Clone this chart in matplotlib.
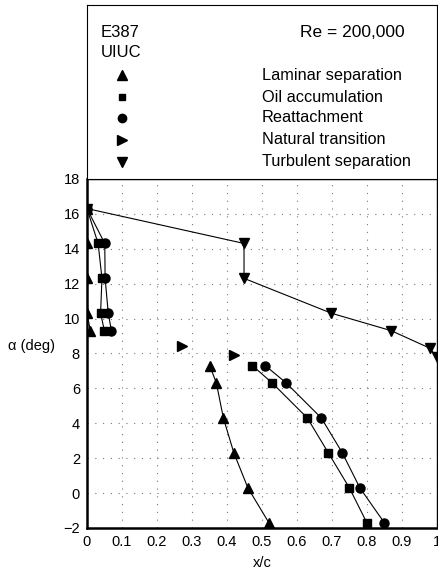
import matplotlib
matplotlib.use("Agg")
import matplotlib.pyplot as plt
from matplotlib.lines import Line2D

plt.rcParams["font.family"] = ["Liberation Sans", "DejaVu Sans"]

# E387 surface oil-flow features, Re = 200,000 (UIUC)
alpha_upper = [16.3, 14.3, 12.3, 10.3, 9.3]
lam_upper_x = [0.0, 0.0, 0.0, 0.0, 0.01]
oil_upper_x = [0.0, 0.032, 0.043, 0.039, 0.05]
reat_upper_x = [0.0, 0.051, 0.052, 0.061, 0.07]

alpha_lower = [7.3, 6.3, 4.3, 2.3, 0.3, -1.7]
lam_lower_x = [0.351, 0.37, 0.39, 0.42, 0.46, 0.52]
oil_lower_x = [0.473, 0.53, 0.63, 0.69, 0.75, 0.80]
reat_lower_x = [0.51, 0.57, 0.67, 0.73, 0.78, 0.85]

nat_x = [0.273, 0.421]
nat_alpha = [8.4, 7.9]

turb_x = [0.0, 0.449, 0.449, 0.699, 0.87, 0.98, 1.0]
turb_alpha = [16.3, 14.3, 12.3, 10.3, 9.3, 8.3, 7.8]

legend_labels = ["Laminar separation", "Oil accumulation", "Reattachment",
                 "Natural transition", "Turbulent separation"]
legend_markers = ["^", "s", "o", ">", "v"]
marker_sizes = {"^": 7, "s": 5.5, "o": 6.5, ">": 7, "v": 7}

fig = plt.figure(figsize=(4.39, 5.77), dpi=100)
ax = fig.add_axes([0.198, 0.085, 0.797, 0.605])
box = fig.add_axes([0.198, 0.690, 0.797, 0.301])

kw = dict(color="black", lw=0.8, mfc="black", mec="black")
ax.plot(lam_upper_x, alpha_upper, marker="^", ms=marker_sizes["^"], **kw)
ax.plot(oil_upper_x, alpha_upper, marker="s", ms=marker_sizes["s"], **kw)
ax.plot(reat_upper_x, alpha_upper, marker="o", ms=marker_sizes["o"], **kw)
ax.plot(lam_lower_x, alpha_lower, marker="^", ms=marker_sizes["^"], **kw)
ax.plot(oil_lower_x, alpha_lower, marker="s", ms=marker_sizes["s"], **kw)
ax.plot(reat_lower_x, alpha_lower, marker="o", ms=marker_sizes["o"], **kw)
ax.plot(nat_x, nat_alpha, marker=">", ms=marker_sizes[">"], ls="none",
        mfc="black", mec="black")
ax.plot(turb_x, turb_alpha, marker="v", ms=marker_sizes["v"], **kw)

ax.set_xlim(0, 1)
ax.set_ylim(-2, 18)
ax.set_xticks([i / 10 for i in range(11)])
ax.set_xticklabels(["0", "0.1", "0.2", "0.3", "0.4", "0.5", "0.6", "0.7",
                    "0.8", "0.9", "1"])
ax.set_yticks(range(-2, 19, 2))
ax.set_yticklabels(["\u22122"] + [str(v) for v in range(0, 19, 2)])
ax.tick_params(length=0, labelsize=10.5)
ax.tick_params(axis="x", pad=5)
ax.tick_params(axis="y", pad=5)
ax.grid(True, color="#777777", lw=0.8, ls=(0, (1, 6)))
ax.set_xlabel("x/c", fontsize=10.5, labelpad=5)
fig.text(8 / 439, 1 - 346 / 577, "\u03b1 (deg)", fontsize=10.5,
         va="center", ha="left")
for side in ("left", "bottom"):
    ax.spines[side].set_linewidth(1.8)
for side in ("top", "right"):
    ax.spines[side].set_linewidth(1.0)

# header box with title and marker key
box.set_xlim(0, 1)
box.set_ylim(0, 1)
box.set_xticks([])
box.set_yticks([])
for s in box.spines.values():
    s.set_linewidth(0.8)
box.text(0.04, 0.845, "E387", fontsize=12, va="center")
box.text(0.04, 0.73, "UIUC", fontsize=12, va="center")
box.text(0.909, 0.845, "Re = 200,000", fontsize=12.5, va="center", ha="right")
row_y = [0.598, 0.471, 0.351, 0.224, 0.098]
for y, m, lab in zip(row_y, legend_markers, legend_labels):
    box.add_line(Line2D([0.1], [y], marker=m, ms=marker_sizes[m] - 0.5,
                        color="black", ls="none"))
    box.text(0.5, y, lab, fontsize=11.7, va="center")

fig.savefig("out.png", dpi=100)
